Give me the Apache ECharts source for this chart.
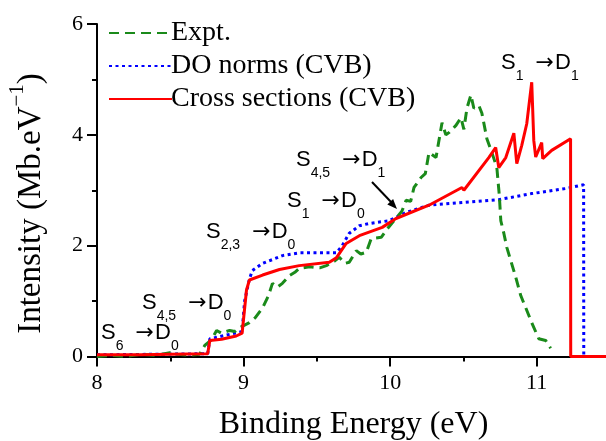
<!DOCTYPE html>
<html>
<head>
<meta charset="utf-8">
<script src="https://cdn.jsdelivr.net/npm/echarts@6/dist/echarts.min.js"></script>
<style>html,body{margin:0;padding:0;background:#fff}#c{width:606px;height:441px}</style>
</head>
<body>
<div id="c"></div>
<script>
// ---- data ----
var seriesNames = ['Expt.', 'DO norms (CVB)', 'Cross sections (CVB)'];
var xTickLabels = ['8', '9', '10', '11'];
var yTickLabels = ['0', '2', '4', '6'];

var exptEnergy = [8.00, 8.10, 8.20, 8.30, 8.40, 8.497, 8.55, 8.633, 8.70, 8.735, 8.78, 8.816, 8.85, 8.905, 8.94, 8.973, 9.04, 9.08, 9.13, 9.17, 9.197, 9.23, 9.265, 9.313, 9.35, 9.38, 9.45, 9.52, 9.565, 9.62, 9.653, 9.69, 9.721, 9.769, 9.80, 9.837, 9.871, 9.939, 9.98, 10.041, 10.08, 10.109, 10.14, 10.163, 10.211, 10.24, 10.265, 10.313, 10.354, 10.38, 10.401, 10.449, 10.483, 10.503, 10.524, 10.551, 10.571, 10.605, 10.626, 10.66, 10.694, 10.728, 10.745, 10.755, 10.776, 10.796, 10.823, 10.857, 10.891, 10.925, 10.966, 11.014, 11.061, 11.095];
var exptIntensity = [0.00, 0.02, 0.00, 0.04, 0.02, 0.07, 0.04, 0.02, 0.04, 0.20, 0.30, 0.47, 0.42, 0.47, 0.45, 0.52, 0.61, 0.70, 0.88, 1.10, 1.32, 1.25, 1.32, 1.46, 1.52, 1.59, 1.62, 1.60, 1.64, 1.72, 1.79, 1.68, 1.70, 1.91, 1.85, 1.88, 2.13, 2.15, 2.30, 2.50, 2.62, 2.82, 2.80, 3.05, 3.23, 3.30, 3.68, 3.59, 4.22, 4.00, 4.04, 4.17, 4.31, 4.10, 4.48, 4.72, 4.48, 4.53, 4.39, 3.93, 3.68, 3.41, 2.90, 2.45, 2.22, 1.97, 1.73, 1.43, 1.10, 0.88, 0.61, 0.32, 0.29, 0.15];

var doEnergy = [8.00, 8.755, 8.77, 8.99, 9.007, 9.04, 9.06, 9.13, 9.265, 9.38, 9.633, 9.673, 9.72, 9.79, 9.857, 9.993, 10.109, 10.265, 10.50, 10.741, 10.966, 11.197, 11.32, 11.321];
var doIntensity = [0.03, 0.05, 0.32, 0.45, 1.00, 1.40, 1.55, 1.68, 1.82, 1.87, 1.87, 2.00, 2.22, 2.36, 2.40, 2.45, 2.60, 2.73, 2.78, 2.83, 2.94, 3.03, 3.10, 0.00];

var csEnergy = [8.00, 8.30, 8.50, 8.755, 8.77, 8.85, 8.95, 8.99, 9.02, 9.04, 9.13, 9.245, 9.38, 9.585, 9.633, 9.70, 9.79, 9.946, 10.04, 10.265, 10.49, 10.503, 10.673, 10.72, 10.741, 10.789, 10.844, 10.864, 10.898, 10.932, 10.966, 10.98, 10.993, 11.034, 11.041, 11.102, 11.231, 11.232, 11.50];
var csIntensity = [0.03, 0.03, 0.04, 0.05, 0.29, 0.31, 0.37, 0.42, 1.20, 1.38, 1.47, 1.57, 1.64, 1.70, 1.78, 2.04, 2.18, 2.33, 2.49, 2.73, 3.05, 3.00, 3.59, 3.77, 3.41, 3.59, 4.03, 3.48, 3.81, 4.20, 4.95, 3.90, 3.60, 3.86, 3.57, 3.72, 3.93, 0.00, 0.00];

// annotation texts (transition labels)
var annotations = [
  {text: '{m|S}{s|6}{m| }{r|\u2192}{m|D}{s|0}', x: 101, y: 322},
  {text: '{m|S}{s|4,5}{m| }{r|\u2192}{m|D}{s|0}', x: 142, y: 292},
  {text: '{m|S}{s|2,3}{m| }{r|\u2192}{m|D}{s|0}', x: 206, y: 221},
  {text: '{m|S}{s|1}{m| }{r|\u2192}{m|D}{s|0}', x: 287, y: 190},
  {text: '{m|S}{s|4,5}{m| }{r|\u2192}{m|D}{s|1}', x: 296, y: 149},
  {text: '{m|S}{s|1}{m| }{r|\u2192}{m|D}{s|1}', x: 501, y: 52}
];
var yTitle = '{a|Intensity (Mb.eV}{b|\u22121}{a|)}';
var xTitle = 'Binding Energy (eV)';

function zip(a, b) { var r = []; for (var i = 0; i < a.length; i++) r.push([a[i], b[i]]); return r; }

var chart = echarts.init(document.getElementById('c'), null, {renderer: 'canvas'});

var serif = 'Liberation Serif';
var sans = 'Liberation Sans';
var annRich = {
  m: {fontFamily: sans, fontSize: 22, lineHeight: 22, verticalAlign: 'top', color: '#000'},
  r: {fontFamily: 'DejaVu Sans', fontSize: 22, lineHeight: 22, verticalAlign: 'top', color: '#000', padding: [0, 1, 0, 6]},
  s: {fontFamily: sans, fontSize: 14, lineHeight: 31, verticalAlign: 'bottom', color: '#000'}
};

var graphics = annotations.map(function (a) {
  return {type: 'text', x: a.x, y: a.y, z: 100,
    style: {text: a.text, rich: annRich, fill: '#000', align: 'left', verticalAlign: 'top'}};
});
// y-axis title (rotated, with superscript)
graphics.push({type: 'text', x: 27, y: 203.5, rotation: Math.PI / 2, z: 100,
  style: {text: yTitle, align: 'center', verticalAlign: 'middle', fill: '#000',
    rich: {
      a: {fontFamily: serif, fontSize: 33, lineHeight: 41, verticalAlign: 'bottom', color: '#000'},
      b: {fontFamily: serif, fontSize: 21, lineHeight: 21, verticalAlign: 'top', color: '#000'}
    }}});
// pointer arrow for S4,5 -> D1
graphics.push({type: 'line', z: 100, shape: {x1: 372, y1: 182, x2: 392, y2: 203}, style: {stroke: '#000', lineWidth: 2}});
graphics.push({type: 'polygon', z: 100, shape: {points: [[397, 209], [387.3, 204.4], [393.1, 199.0]]}, style: {fill: '#000'}});

var option = {
  animation: false,
  backgroundColor: '#fff',
  grid: {left: 97, top: 24, width: 513, height: 332.5, containLabel: false, outerBoundsMode: 'none'},
  legend: {
    orient: 'vertical', left: 103, top: 14, itemWidth: 63, itemHeight: 14, itemGap: 5,
    data: seriesNames,
    itemStyle: {opacity: 0},
    textStyle: {fontFamily: serif, fontSize: 28, color: '#000', padding: [0, 0, 0, -6]},
    selectedMode: false
  },
  xAxis: {
    type: 'value', min: 8, max: 11.5, interval: 1,
    name: xTitle, nameLocation: 'middle', nameGap: 52,
    nameTextStyle: {fontFamily: serif, fontSize: 32, color: '#000'},
    axisLine: {show: true, onZero: false, lineStyle: {color: '#000', width: 2}},
    axisTick: {show: true, length: 10, lineStyle: {color: '#000', width: 2}},
    minorTick: {show: true, splitNumber: 2, length: 5, lineStyle: {color: '#000', width: 2}},
    splitLine: {show: false},
    axisLabel: {fontFamily: serif, fontSize: 22, color: '#000', margin: 16, showMaxLabel: false,
      formatter: function (v) { var i = xTickLabels.indexOf(String(v)); return i >= 0 ? xTickLabels[i] : ''; }}
  },
  yAxis: {
    type: 'value', min: 0, max: 6, interval: 2,
    axisLine: {show: true, lineStyle: {color: '#000', width: 2}},
    axisTick: {show: true, length: 10, lineStyle: {color: '#000', width: 2}},
    minorTick: {show: true, splitNumber: 2, length: 5, lineStyle: {color: '#000', width: 2}},
    splitLine: {show: false},
    axisLabel: {fontFamily: serif, fontSize: 22, color: '#000', margin: 14,
      formatter: function (v) { var i = yTickLabels.indexOf(String(v)); return i >= 0 ? yTickLabels[i] : ''; }}
  },
  series: [
    {name: seriesNames[0], type: 'line', symbol: 'none', z: 3, data: zip(exptEnergy, exptIntensity),
      lineStyle: {color: '#1a8a1a', width: 3, type: [10, 6]}, itemStyle: {color: '#1a8a1a'}},
    {name: seriesNames[1], type: 'line', symbol: 'none', z: 2, data: zip(doEnergy, doIntensity),
      lineStyle: {color: '#0000ff', width: 3, type: [3, 3.5]}, itemStyle: {color: '#0000ff'}},
    {name: seriesNames[2], type: 'line', symbol: 'none', z: 4, data: zip(csEnergy, csIntensity),
      lineStyle: {color: '#ff0000', width: 3, type: 'solid'}, itemStyle: {color: '#ff0000'}}
  ],
  graphic: graphics
};
chart.setOption(option);
</script>
</body>
</html>
